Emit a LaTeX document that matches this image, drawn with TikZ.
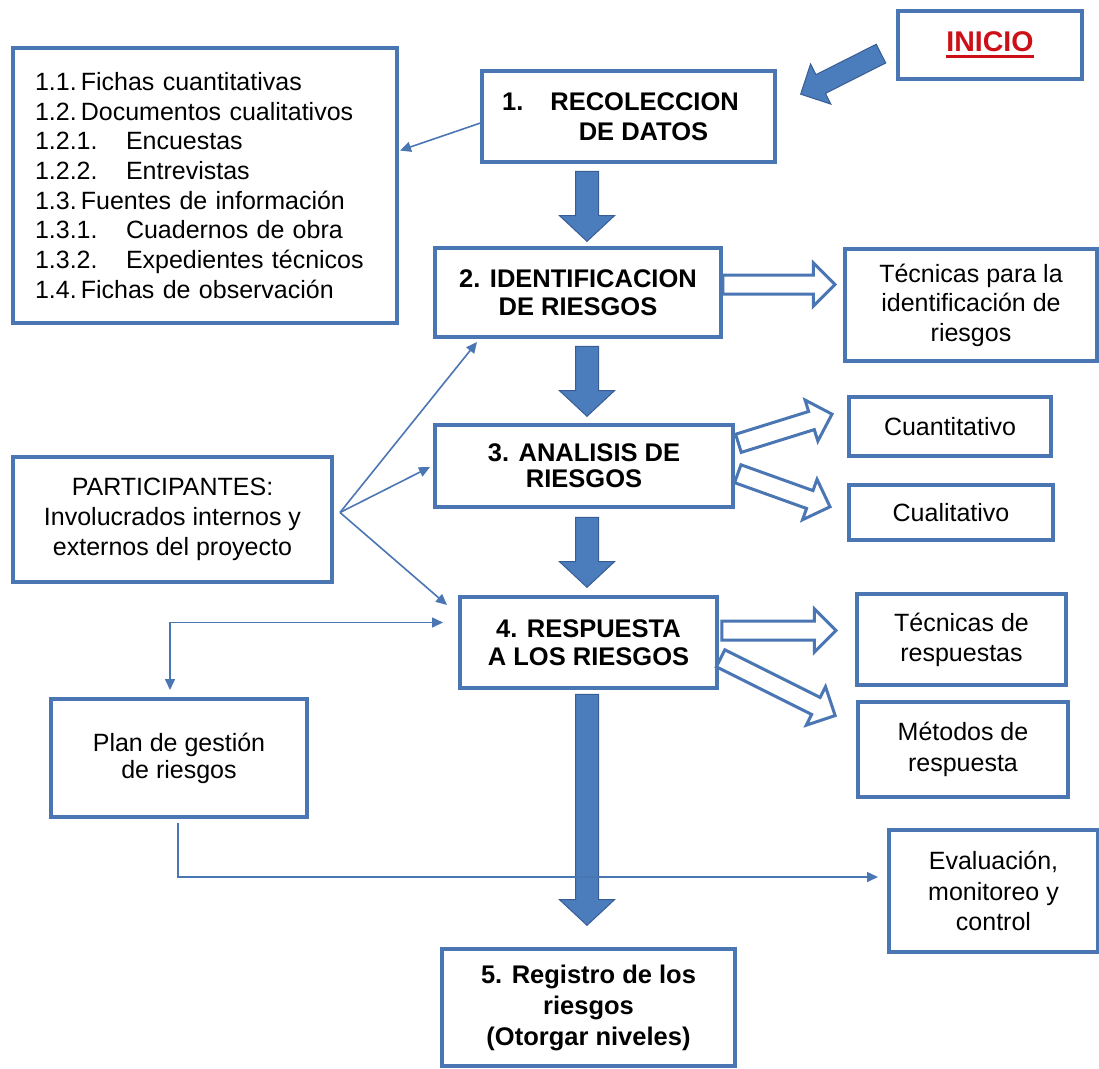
\documentclass[tikz,border=0pt]{standalone}
\usepackage{fontspec}
\setmainfont{Liberation Sans}
\usepackage{tikz}
\usetikzlibrary{arrows.meta,calc,shapes.arrows}

\definecolor{boxblue}{RGB}{74,118,180}
\definecolor{flowblue}{RGB}{75,125,188}
\definecolor{flowdark}{RGB}{56,93,150}
\definecolor{iniciored}{RGB}{204,16,24}

\newcommand{\fsz}[2]{\fontsize{#1}{#2}\selectfont}
\newcommand{\redunder}[1]{\setbox0\hbox{#1}\rlap{\rule[-6pt]{\wd0}{2.5pt}}\box0}

\begin{document}
\begin{tikzpicture}[x=1pt,y=-1pt]

	\tikzstyle stage box=[draw=boxblue, line width=4.5pt, fill=white, inner sep=0pt, outer sep=0pt, align=center, font=\fsz{25.5}{28}\bfseries];
	\tikzstyle side box=[draw=boxblue, line width=4.5pt, fill=white, inner sep=0pt, outer sep=0pt, align=center, font=\fsz{25}{30}];
	\tikzstyle thin flow=[draw=boxblue, line width=1.6pt, -{Triangle[length=11pt,width=10pt]}];
	\tikzstyle block flow=[single arrow, fill=flowblue, draw=flowdark, line width=1pt, inner xsep=0pt, inner ysep=11pt, single arrow head extend=16pt, single arrow tip angle=94, at end, anchor=tip, sloped, allow upside down];
	\tikzstyle hollow flow=[single arrow, fill=white, draw=boxblue, line width=3pt, inner xsep=0pt, inner ysep=8pt, single arrow head extend=12pt, single arrow tip angle=90, at end, anchor=tip, sloped, allow upside down];

	\path[use as bounding box, fill=white] (0,0) rectangle (1099,1068);

	\node[side box, minimum width=384pt, minimum height=275pt, text width=340pt, align=left, font=\fsz{25}{29.7}] (items) at (205,185.5)
		{1.1.\,Fichas cuantitativas\\
		 1.2.\,Documentos cualitativos\\
		 \makebox[91pt][l]{1.2.1.}Encuestas\\
		 \makebox[91pt][l]{1.2.2.}Entrevistas\\
		 1.3.\,Fuentes de información\\
		 \makebox[91pt][l]{1.3.1.}Cuadernos de obra\\
		 \makebox[91pt][l]{1.3.2.}Expedientes técnicos\\
		 1.4.\,Fichas de observación};
	\node[side box, minimum width=184pt, minimum height=68pt, font=\fsz{28.5}{30}\bfseries, text=iniciored] (inicio) at (990,45) {\redunder{INICIO}};

	\node[stage box, minimum width=293pt, minimum height=91pt, font=\fsz{25.5}{30}\bfseries] (box1) at (628.5,116.5) {1.\hspace{27pt}RECOLECCION\hspace*{16pt}\\\hspace*{30pt}DE DATOS};
	\node[stage box, minimum width=286pt, minimum height=89pt] (box2) at (578,292.5) {2. IDENTIFICACION\\DE RIESGOS};
	\node[stage box, minimum width=298pt, minimum height=82pt, font=\fsz{25.5}{26}\bfseries] (box3) at (584,466) {3. ANALISIS DE\\RIESGOS};
	\node[stage box, minimum width=257pt, minimum height=91pt] (box4) at (588.5,642.5) {4. RESPUESTA\\A LOS RIESGOS};
	\node[stage box, minimum width=293pt, minimum height=117pt, font=\fsz{25.5}{31}\bfseries] (box5) at (588.5,1007.5) {5. Registro de los\\riesgos\\(Otorgar niveles)};

	\node[side box, minimum width=252pt, minimum height=112pt, font=\fsz{25}{29.5}] (tec1) at (971,305) {Técnicas para la\\identificación de\\riesgos};
	\node[side box, minimum width=202pt, minimum height=59pt] (cuanti) at (950,426.5) {Cuantitativo};
	\node[side box, minimum width=204pt, minimum height=55pt] (cuali) at (951,512.5) {Cualitativo};
	\node[side box, minimum width=209pt, minimum height=91pt] (tecresp) at (961.5,639.5) {Técnicas de\\respuestas};
	\node[side box, minimum width=210pt, minimum height=95pt, font=\fsz{25}{31}] (metodos) at (963,749.5) {Métodos de\\respuesta};
	\node[side box, minimum width=319pt, minimum height=125pt] (part) at (172.5,519.5) {PARTICIPANTES:\\Involucrados internos y\\externos del proyecto};
	\node[side box, minimum width=256pt, minimum height=118pt, font=\fsz{25}{27}] (plan) at (179,758) {Plan de gestión\\de riesgos};
	\node[side box, minimum width=209pt, minimum height=122pt, font=\fsz{25}{30.5}] (eval) at (993.5,891) {Evaluación,\\monitoreo y\\control};

	\coordinate (spine) at (587,0);
	\foreach \from/\to/\gap/\len in {box1/box2/6/70pt,box2/box3/8/70pt,box3/box4/9/70pt,box4/box5/23/231pt}
		\path (\from.south -| spine) -- ($(\to.north -| spine)+(0,-\gap)$) node[block flow, minimum height=\len] {};
	\path (inicio.west) -- ($(box1.east)+(25,-22)$) node[block flow, inner ysep=10pt, single arrow head extend=12pt, single arrow tip angle=90, minimum height=90pt] {};

	\path ($(box2.east)+(0,-8)$) -- ($(box2.east -| tec1.west)+(-8,-8)$) node[hollow flow, minimum height=112pt] {};
	\path ($(box3.east)+(0,-21)$) -- ($(cuanti.west)+(-15,-13)$) node[hollow flow, minimum height=98pt] {};
	\path ($(box3.east)+(0,6)$) -- ($(cuali.west)+(-17,-5)$) node[hollow flow, minimum height=98pt] {};
	\path ($(box4.east)+(0,-12)$) -- ($(box4.east -| tecresp.west)+(-19,-12)$) node[hollow flow, minimum height=114pt] {};
	\path ($(box4.east)+(0,14)$) -- ($(metodos.west)+(-21,-33)$) node[hollow flow, minimum height=128pt] {};

	\draw[thin flow] ($(box1.west)+(0,6)$) -- ($(items.east)+(3,-35)$);
	\coordinate (fan) at ($(part.east)+(8,-7)$);
	\draw[thin flow] (fan) -- ($(box2.south west)+(42,5)$);
	\draw[thin flow] (fan) -- ($(box3.west)+(-5,1)$);
	\draw[thin flow] (fan) -- ($(box4.north west)+(-13,8)$);
	\draw[thin flow, {Triangle[length=11pt,width=10pt]}-{Triangle[length=11pt,width=10pt]}] ($(plan.north)+(-9,-9)$) |- ($(box4.west)+(-17,-20)$);
	\draw[thin flow] ($(plan.south)+(-1,6)$) |- ($(eval.west)+(-11,-14)$);

\end{tikzpicture}
\end{document}
